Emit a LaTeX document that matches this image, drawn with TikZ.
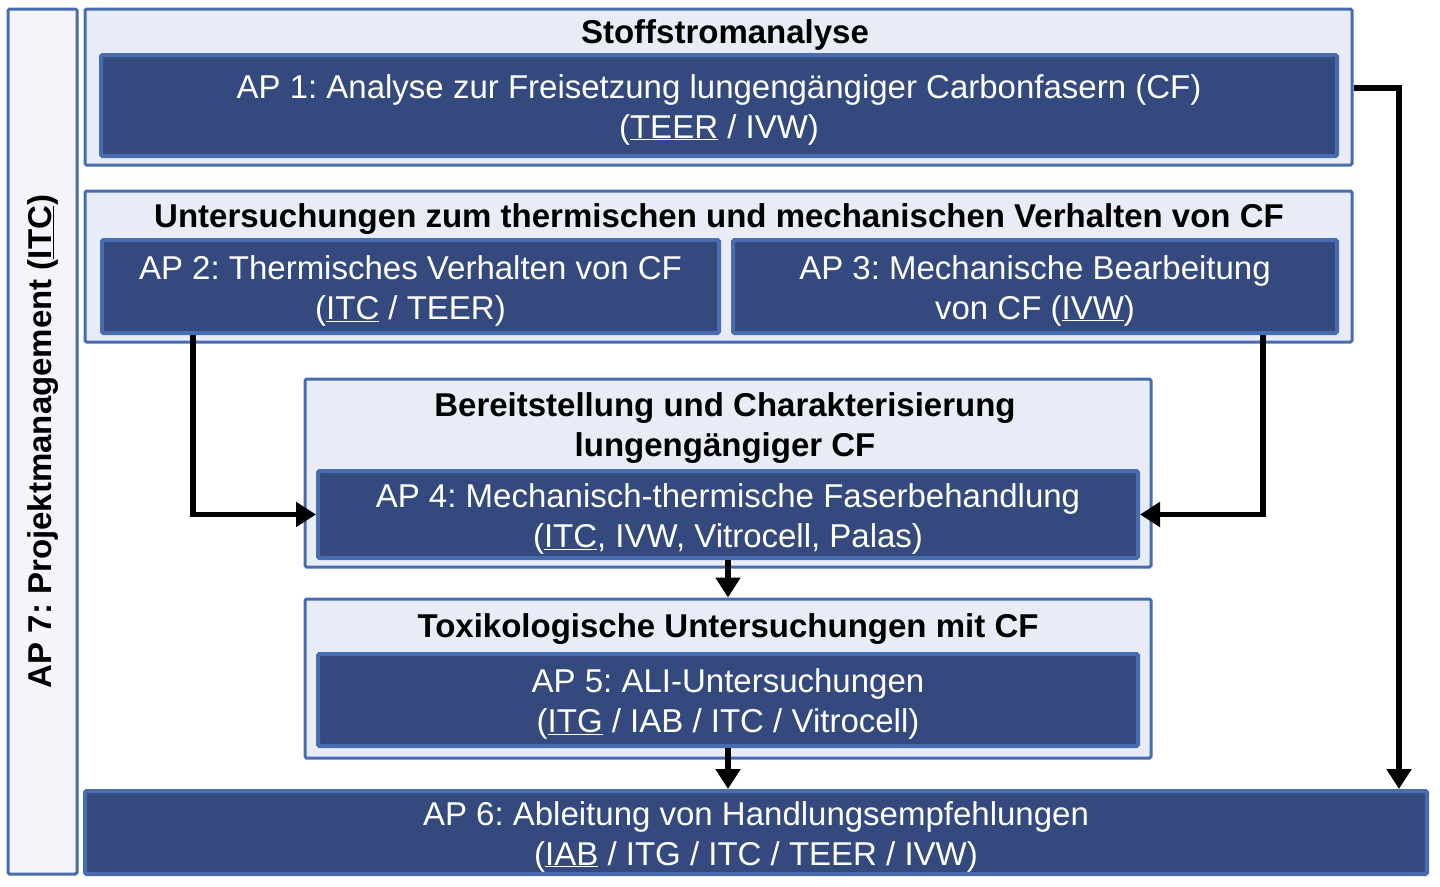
\documentclass[tikz,border=0pt]{standalone}
\usepackage{fontspec}
\setmainfont{Liberation Sans}
\frenchspacing
\usetikzlibrary{arrows.meta}
\definecolor{bordblue}{RGB}{72,108,176}
\definecolor{darkfill}{RGB}{52,74,126}
\definecolor{lightfill}{RGB}{232,236,246}
\definecolor{palefill}{RGB}{243,245,250}
\newcommand{\bx}[6]{%
  \node[#6, minimum width={(#4)-(#2)}, minimum height={(#5)-(#3)}] (#1) at ({((#2)+(#4))/2},{((#3)+(#5))/2}) {};}
\tikzset{
  outerbox/.style={draw=bordblue, fill=lightfill, line width=3pt, inner sep=0pt, rounded corners=1.5pt},
  pmbox/.style={draw=bordblue, fill=palefill, line width=3pt, inner sep=0pt, rounded corners=1.5pt},
  innerbox/.style={draw=bordblue, fill=darkfill, line width=4pt, inner sep=0pt, rounded corners=1.5pt},
  wtext/.style={text=white, align=center, font=\fontsize{33}{40}\selectfont, inner sep=0pt, yshift=-4pt},
  ttext/.style={text=black, align=center, font=\bfseries\fontsize{33}{40}\selectfont, inner sep=0pt},
  conn/.style={line width=5.5pt, -{Triangle[length=20pt,width=24pt]}},
}
\begin{document}
\begin{tikzpicture}[x=1pt,y=-1pt]
\useasboundingbox (0,0) rectangle (1440,886);
% AP7
\bx{ap7}{8}{9}{77}{874}{pmbox}
\node[ttext, rotate=90] (ap7t) at ([xshift=1pt]ap7.center) {AP 7: Projektmanagement (\underline{ITC})};
% Stoffstromanalyse
\bx{g1}{85}{9}{1352}{165}{outerbox}
\node[ttext] (g1t) at (725,35) {Stoffstromanalyse};
\bx{ap1}{101}{55}{1337}{156}{innerbox}
\node[wtext] (ap1t) at (ap1.center) {AP 1: Analyse zur Freisetzung lungengängiger Carbonfasern (CF)\\(\underline{TEER} / IVW)};
% Untersuchungen
\bx{g2}{85}{191}{1352}{342}{outerbox}
\node[ttext] (g2t) at (719,219) {Untersuchungen zum thermischen und mechanischen Verhalten von CF};
\bx{ap2}{102}{240}{719}{333}{innerbox}
\node[wtext] (ap2t) at (ap2.center) {AP 2: Thermisches Verhalten von CF\\(\underline{ITC} / TEER)};
\bx{ap3}{733}{240}{1337}{333}{innerbox}
\node[wtext] (ap3t) at (ap3.center) {AP 3: Mechanische Bearbeitung\\von CF (\underline{IVW})};
% Bereitstellung
\bx{g3}{305}{379}{1151}{567}{outerbox}
\node[ttext] (g3t) at (725,428) {Bereitstellung und Charakterisierung\\lungengängiger CF};
\bx{ap4}{318}{471}{1138}{558}{innerbox}
\node[wtext] (ap4t) at (ap4.center) {AP 4: Mechanisch-thermische Faserbehandlung\\(\underline{ITC}, IVW, Vitrocell, Palas)};
% Toxikologische
\bx{g4}{305}{599}{1151}{758}{outerbox}
\node[ttext] (g4t) at (728,629) {Toxikologische Untersuchungen mit CF};
\bx{ap5}{318}{654}{1138}{746}{innerbox}
\node[wtext] (ap5t) at (ap5.center) {AP 5: ALI-Untersuchungen\\(\underline{ITG} / IAB / ITC / Vitrocell)};
% AP6
\bx{ap6}{85}{791}{1427}{874}{innerbox}
\node[wtext] (ap6t) at (ap6.center) {AP 6: Ableitung von Handlungsempfehlungen\\(\underline{IAB} / ITG / ITC / TEER / IVW)};
% connectors
\draw[conn] (ap2.south -| 193,0) |- (ap4.west);
\draw[conn] (ap3.south -| 1263,0) |- (ap4.east);
\draw[conn] (ap4.south) -- (g4.north);
\draw[conn] (ap5.south) -- (ap6.north -| ap5.south);
\draw[conn] (g1.east |- 0,88) -| (ap6.north -| 1399,0);
\end{tikzpicture}
\end{document}
